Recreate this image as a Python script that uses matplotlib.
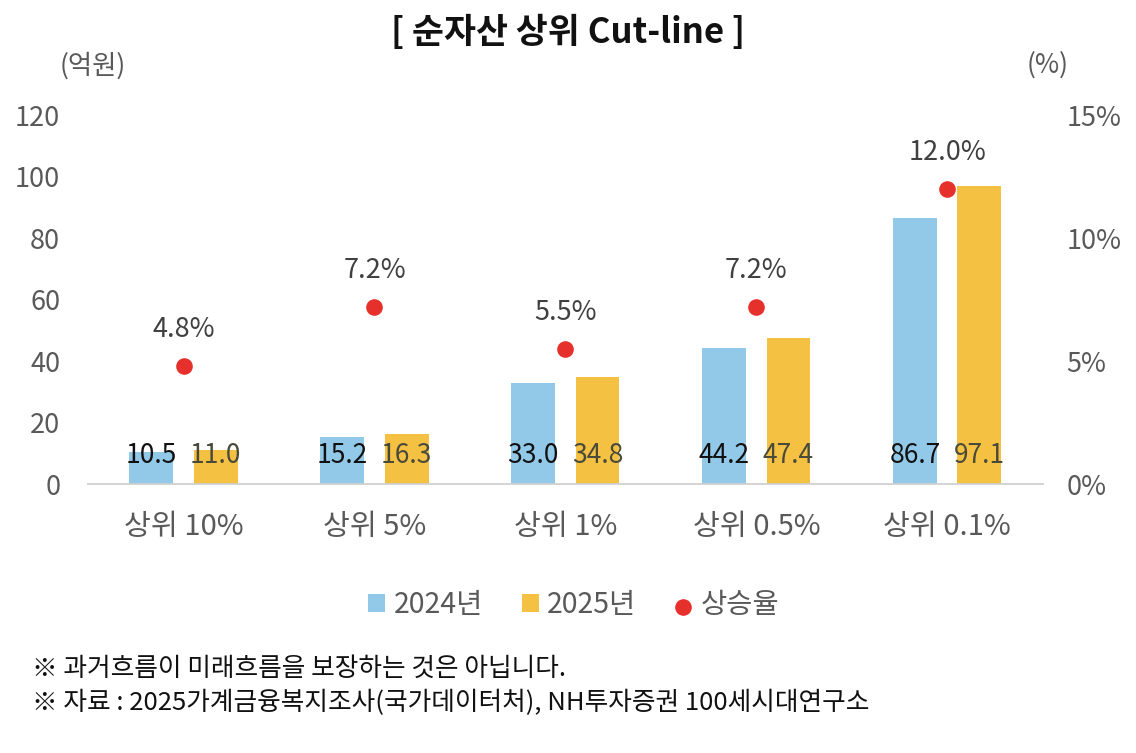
import matplotlib
matplotlib.use("Agg")
import matplotlib.pyplot as plt
import numpy as np
from matplotlib.ticker import FuncFormatter

plt.rcParams['font.family'] = ['Noto Sans CJK KR', 'DejaVu Sans']

categories = ['상위 10%', '상위 5%', '상위 1%', '상위 0.5%', '상위 0.1%']
values_2024 = [10.5, 15.2, 33.0, 44.2, 86.7]
values_2025 = [11.0, 16.3, 34.8, 47.4, 97.1]
growth = [4.8, 7.2, 5.5, 7.2, 12.0]
left_ticks = [0, 20, 40, 60, 80, 100, 120]
right_ticks = [0, 5, 10, 15]

c_blue = '#93C9E8'
c_yellow = '#F5C142'
c_red = '#E6302B'
c_gray = '#595959'

fig = plt.figure(figsize=(11.36, 7.53), dpi=100)
ax = fig.add_axes([0.0775, 0.357, 0.8405, 0.490])
ax2 = ax.twinx()

x = np.arange(len(categories))
w = 0.23
off = 0.168
ax.bar(x - off, values_2024, width=w, color=c_blue, label='2024년', zorder=2)
ax.bar(x + off, values_2025, width=w, color=c_yellow, label='2025년', zorder=2)

for i in range(len(categories)):
    ax.text(x[i] - off, 9.3, f'{values_2024[i]:.1f}', ha='center', va='center',
            fontsize=19, color='#111111', zorder=5)
    ax.text(x[i] + off, 9.3, f'{values_2025[i]:.1f}', ha='center', va='center',
            fontsize=19, color='#4a4a3a', zorder=5)

ax2.scatter(x, growth, s=120, color=c_red, zorder=6, label='상승율')
for i in range(len(categories)):
    ax2.annotate(f'{growth[i]:.1f}%', (x[i], growth[i]), xytext=(0, 26),
                 textcoords='offset points', ha='center', va='center',
                 fontsize=19.5, color='#404040')

ax.set_xlim(-0.5, len(categories) - 0.5)
ax.set_ylim(0, 120)
ax2.set_ylim(0, 15)
ax.set_yticks(left_ticks)
ax2.set_yticks(right_ticks)
ax2.yaxis.set_major_formatter(FuncFormatter(lambda v, p: f'{v:.0f}%'))
ax.set_xticks(x)
ax.set_xticklabels(categories, fontsize=21, color=c_gray)

for a in (ax, ax2):
    for s in ['top', 'left', 'right', 'bottom']:
        a.spines[s].set_visible(False)
    a.tick_params(length=0)
ax.spines['bottom'].set_visible(True)
ax.spines['bottom'].set_color('#D0D0D0')
ax.spines['bottom'].set_linewidth(1.3)
ax.tick_params(axis='y', labelsize=19.5, labelcolor=c_gray, pad=20)
ax.tick_params(axis='x', pad=20)
ax2.tick_params(axis='y', labelsize=19.5, labelcolor=c_gray, pad=17)

fig.text(0.5, 0.957, '[ 순자산 상위 Cut-line ]', ha='center', va='center',
         fontsize=25, fontweight='bold', color='#111111')
fig.text(0.082, 0.913, '(억원)', ha='center', va='center', fontsize=19, color=c_gray)
fig.text(0.922, 0.913, '(%)', ha='center', va='center', fontsize=19, color=c_gray)

h1, l1 = ax.get_legend_handles_labels()
h2, l2 = ax2.get_legend_handles_labels()
fig.legend(h1 + h2, l1 + l2, loc='center', bbox_to_anchor=(0.505, 0.196), ncol=3,
           frameon=False, fontsize=20.5, labelcolor=c_gray, handlelength=0.6,
           handleheight=0.6, handletextpad=0.3, columnspacing=1.35, markerscale=1.0)

fig.text(0.028, 0.112, '※ 과거흐름이 미래흐름을 보장하는 것은 아닙니다.', ha='left', va='center',
         fontsize=18.5, color='#111111')
fig.text(0.028, 0.066, '※ 자료 : 2025가계금융복지조사(국가데이터처), NH투자증권 100세시대연구소',
         ha='left', va='center', fontsize=18.5, color='#111111')

fig.savefig('out.png', dpi=100)
